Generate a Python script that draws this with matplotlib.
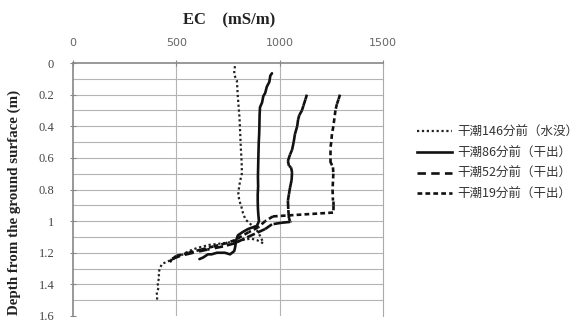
import numpy as np
import matplotlib
matplotlib.use("Agg")
import matplotlib.pyplot as plt
from matplotlib.collections import LineCollection
from matplotlib.lines import Line2D

# EC (mS/m) and depth (m)
ec_146 = [784, 780, 782, 793, 795, 797, 800, 803, 806, 808, 810, 812, 815, 817, 817, 810, 804,
          800, 805, 815, 823, 835, 860, 881, 900, 915, 920, 890, 860, 820, 780, 726, 660, 600,
          560, 532, 500, 484, 450, 431, 420, 414, 418, 408, 415, 405, 408, 405]
dep_146 = [0.02, 0.05, 0.08, 0.11, 0.15, 0.20, 0.25, 0.30, 0.35, 0.41, 0.47, 0.53, 0.60, 0.66,
           0.70, 0.74, 0.78, 0.83, 0.87, 0.91, 0.95, 0.99, 1.02, 1.04, 1.08, 1.12, 1.14, 1.12,
           1.11, 1.12, 1.13, 1.14, 1.15, 1.17, 1.19, 1.21, 1.23, 1.24, 1.26, 1.27, 1.30, 1.33,
           1.36, 1.39, 1.42, 1.45, 1.48, 1.51]

ec_86 = [963, 955, 950, 938, 930, 921, 915, 905, 903, 902, 901, 899, 898, 897, 896, 895, 896,
         894, 894, 895, 897, 900, 890, 847, 820, 798, 790, 784, 780, 760, 735, 697, 670, 653,
         630, 612]
dep_86 = [0.065, 0.08, 0.12, 0.15, 0.19, 0.21, 0.25, 0.28, 0.33, 0.40, 0.45, 0.50, 0.55, 0.60,
          0.66, 0.72, 0.78, 0.83, 0.87, 0.92, 0.96, 1.00, 1.03, 1.05, 1.07, 1.09, 1.12, 1.17,
          1.19, 1.21, 1.20, 1.20, 1.21, 1.21, 1.23, 1.24]

ec_52 = [1132, 1125, 1115, 1108, 1095, 1089, 1085, 1074, 1068, 1060, 1050, 1040, 1045, 1055,
         1060, 1058, 1050, 1045, 1040, 1042, 1045, 1050, 1050, 1011, 963, 930, 880, 830, 784,
         726, 650, 581, 518, 479, 469]
dep_52 = [0.20, 0.23, 0.27, 0.30, 0.33, 0.36, 0.40, 0.45, 0.50, 0.55, 0.58, 0.62, 0.65, 0.66,
          0.69, 0.74, 0.79, 0.83, 0.87, 0.93, 0.98, 1.00, 1.005, 1.01, 1.02, 1.05, 1.08, 1.11,
          1.14, 1.16, 1.18, 1.20, 1.22, 1.24, 1.26]

ec_19 = [1292, 1285, 1277, 1270, 1265, 1260, 1253, 1250, 1244, 1244, 1258, 1260, 1258, 1256,
         1258, 1258, 1258, 968, 930, 895, 850, 784, 740, 680, 620, 560, 500, 470]
dep_19 = [0.20, 0.23, 0.26, 0.30, 0.35, 0.40, 0.45, 0.50, 0.55, 0.62, 0.66, 0.70, 0.75, 0.80,
          0.87, 0.90, 0.946, 0.97, 1.00, 1.04, 1.07, 1.12, 1.14, 1.16, 1.18, 1.20, 1.22, 1.25]

labels = ["干潮146分前（水没）", "干潮86分前（干出）", "干潮52分前（干出）", "干潮19分前（干出）"]

fig = plt.figure(figsize=(5.88, 3.2), dpi=100)
ax = fig.add_axes([0.1241, 0.0125, 0.5272, 0.7906])

# grid every 0.1 m, verticals at 500 / 1000
for d in np.arange(0.1, 1.6, 0.1):
    ax.axhline(d, color="#b4b4b4", lw=0.8, zorder=0)
for e in [500, 1000]:
    ax.axvline(e, color="#b4b4b4", lw=0.8, zorder=0)

lw = 1.9
ax.plot(ec_146, dep_146, color="#222222", lw=1.6, linestyle=(0, (1, 1.2)), zorder=3)
ax.plot(ec_86, dep_86, color="#111111", lw=lw, solid_capstyle="round", zorder=3)


# Excel restarts the dash pattern at every point, so draw each segment on its own
def dashed(ec, dep, pattern):
    pts = np.column_stack([ec, dep])
    segs = np.stack([pts[:-1], pts[1:]], axis=1)
    lc = LineCollection(segs, colors="#111111", linewidths=lw, linestyles=[pattern], zorder=3)
    ax.add_collection(lc)


dashed(ec_52, dep_52, (0, (3.2, 2.0)))
dashed(ec_19, dep_19, (0, (1.8, 1.2)))

ax.set_xlim(0, 1500)
ax.set_ylim(1.6, 0)
ax.xaxis.tick_top()
ax.set_xticks([0, 500, 1000, 1500])
ax.set_yticks(np.arange(0, 1.61, 0.2))
ax.set_yticklabels(["0", "0.2", "0.4", "0.6", "0.8", "1", "1.2", "1.4", "1.6"],
                   fontfamily="Liberation Serif", fontsize=9, color="#444444")
ax.tick_params(axis="x", direction="inout", length=5, width=0.8, color="#888888",
               labelsize=8, labelcolor="#666666", pad=8)
ax.tick_params(axis="y", direction="inout", length=5, width=0.8, color="#888888", pad=11)
for lab in ax.get_xticklabels():
    lab.set_fontfamily("DejaVu Sans")

for side in ["left", "top"]:
    ax.spines[side].set_color("#888888")
    ax.spines[side].set_linewidth(1.2)
ax.spines["right"].set_color("#aaaaaa")
ax.spines["bottom"].set_visible(False)

fig.text(0.39, 0.935, "EC    (mS/m)", ha="center", va="center",
         fontfamily="Liberation Serif", fontweight="bold", fontsize=12, color="#222222")
fig.text(0.024, 0.366, "Depth from the ground surface (m)", rotation=90, ha="center",
         va="center", fontfamily="Liberation Serif", fontweight="bold", fontsize=10.8,
         color="#222222")

handles = [
    Line2D([], [], color="#222222", lw=1.6, linestyle=(0, (1, 1.2))),
    Line2D([], [], color="#111111", lw=lw),
    Line2D([], [], color="#111111", lw=lw, linestyle=(0, (3.2, 2.0))),
    Line2D([], [], color="#111111", lw=lw, linestyle=(0, (1.8, 1.2))),
]
fig.legend(handles, labels, loc="center left", bbox_to_anchor=(0.69, 0.49), frameon=False,
           prop={"family": ["Noto Sans CJK JP", "DejaVu Sans"], "size": 9},
           handlelength=2.8, handletextpad=0.4, labelspacing=0.62, labelcolor="#333333")

fig.savefig("out.png", dpi=100)
